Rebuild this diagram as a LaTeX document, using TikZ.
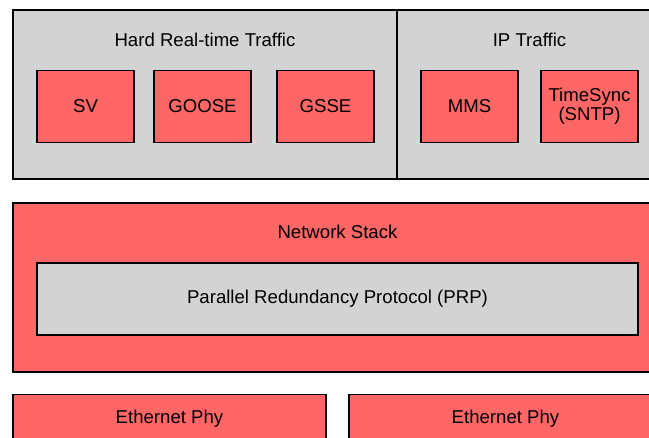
\documentclass[tikz,border=0pt]{standalone}
\usepackage{fontspec}
\setmainfont{Liberation Sans}
\definecolor{boxred}{HTML}{FF6666}
\definecolor{boxgray}{HTML}{D3D3D3}
\begin{document}
\begin{tikzpicture}[x=1pt,y=-1pt,
  blk/.style={draw=black,line width=1.3pt,inner sep=0pt,outer sep=0pt},
  redblk/.style={blk,fill=boxred},
  grayblk/.style={blk,fill=boxgray},
  lbl/.style={font=\fontsize{18.6}{21}\selectfont,inner sep=0pt,align=center}]
\useasboundingbox (0,0) rectangle (649,438);
\begin{scope}
\clip (0,0) rectangle (649,438);
% top containers
\node[grayblk,minimum width=384pt,minimum height=169pt] (hrt) at (205,94.5) {};
\node[grayblk,minimum width=265pt,minimum height=169pt] (ip) at (529.5,94.5) {};
\node[lbl] (hrtl) at (205,40) {Hard Real-time Traffic};
\node[lbl] (ipl) at (529.5,40) {IP Traffic};
% inner boxes
\node[redblk,lbl,minimum width=97pt,minimum height=72pt] (sv) at (85.5,106.5) {SV};
\node[redblk,lbl,minimum width=97pt,minimum height=72pt] (goose) at (202.5,106.5) {GOOSE};
\node[redblk,lbl,minimum width=97pt,minimum height=72pt] (gsse) at (325.5,106.5) {GSSE};
\node[redblk,lbl,minimum width=97pt,minimum height=72pt] (mms) at (469.5,106.5) {MMS};
\node[redblk,lbl,minimum width=97pt,minimum height=72pt] (ts) at (589.5,106.5) {TimeSync\\[-2pt](SNTP)};
% network stack
\node[redblk,minimum width=649pt,minimum height=169pt] (ns) at (337.5,287.5) {};
\node[lbl] (nsl) at (337.5,232) {Network Stack};
\node[grayblk,lbl,minimum width=601pt,minimum height=72pt] (prp) at (337.5,299) {Parallel Redundancy Protocol (PRP)};
% ethernet phys
\node[redblk,minimum width=313pt,minimum height=80pt] (eth1) at (169.5,434.5) {};
\node[redblk,minimum width=313pt,minimum height=80pt] (eth2) at (505.5,434.5) {};
\node[lbl] (eth1l) at (169.5,419) {Ethernet Phy};
\node[lbl] (eth2l) at (505.5,419) {Ethernet Phy};
\end{scope}
\end{tikzpicture}
\end{document}
